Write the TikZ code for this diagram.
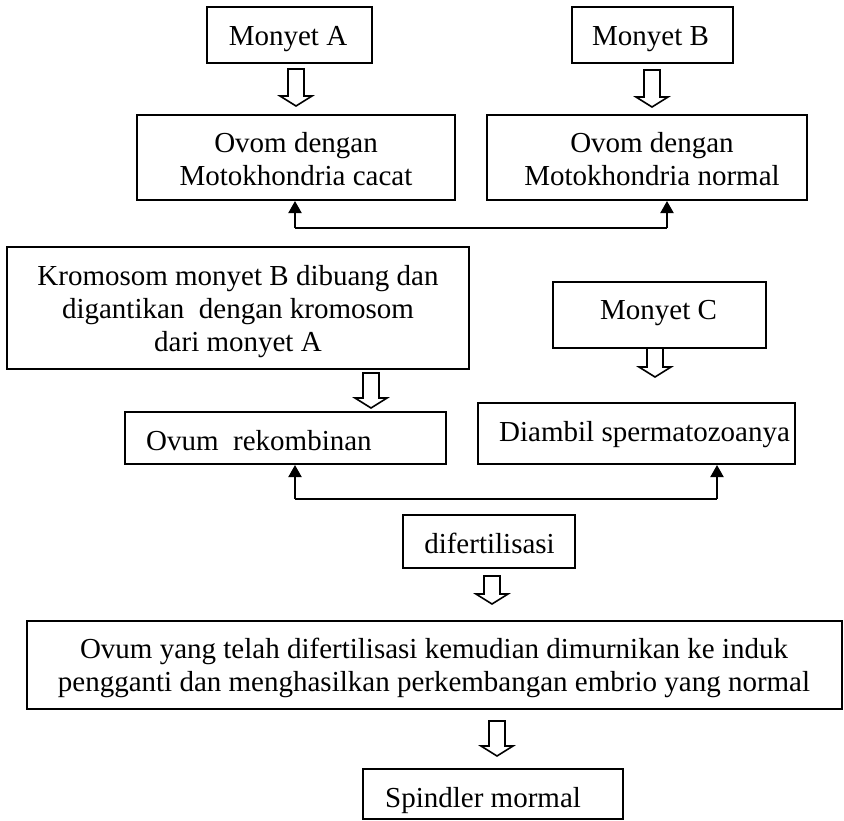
\documentclass[tikz,border=0pt]{standalone}
\usepackage{fontspec}
\setmainfont{Liberation Serif}
\usetikzlibrary{arrows.meta}
\begin{document}
\begin{tikzpicture}[x=1pt,y=-1pt,
  box/.style={draw, line width=2pt, inner sep=0pt},
  txt/.style={inner sep=0pt, align=center, font=\fontsize{29}{33}\selectfont},
  link/.style={line width=2pt},
  up/.style={link, -{Triangle[width=13pt,length=12pt]}},
  pics/hollow/.style={code={
    \draw[line width=1.6pt, fill=white, line join=miter]
      (-8,0) -- (8,0) -- (8,#1-10) -- (16,#1-10) -- (0,#1)
      -- (-16,#1-10) -- (-8,#1-10) -- cycle;}}
]
\useasboundingbox (0,0) rectangle (844,820);

% boxes
\node[box, minimum width=165pt, minimum height=56pt] (mA)   at (289.5,35)  {};
\node[box, minimum width=161pt, minimum height=56pt] (mB)   at (652.5,35)  {};
\node[box, minimum width=318pt, minimum height=85pt] (ovA)  at (296,157.5) {};
\node[box, minimum width=320pt, minimum height=85pt] (ovB)  at (647,157.5) {};
\node[box, minimum width=462pt, minimum height=122pt] (krom) at (238,308)  {};
\node[box, minimum width=213pt, minimum height=66pt] (mC)   at (659.5,315) {};
\node[box, minimum width=321pt, minimum height=52pt] (rek)  at (285.5,438) {};
\node[box, minimum width=317pt, minimum height=61pt] (diam) at (636.5,433.5) {};
\node[box, minimum width=172pt, minimum height=53pt] (dif)  at (489,541.5) {};
\node[box, minimum width=815pt, minimum height=88pt] (big)  at (434.5,665) {};
\node[box, minimum width=260pt, minimum height=50pt] (spin) at (493,794)   {};

% texts (multi-line nodes are placed by the baseline of their last line)
\node[txt, anchor=base] (mAt)   at (288,45)    {Monyet A};
\node[txt, anchor=base] (mBt)   at (650.5,45)  {Monyet B};
\node[txt, anchor=base] (ovAt)  at (296,185)   {Ovom dengan\\Motokhondria cacat};
\node[txt, anchor=base] (ovBt)  at (652,185)   {Ovom dengan\\Motokhondria normal};
\node[txt, anchor=base] (kromt) at (238,351)   {Kromosom monyet B dibuang dan\\digantikan~ dengan kromosom\\dari monyet A};
\node[txt, anchor=base] (mCt)   at (658.5,319) {Monyet C};
\node[txt, anchor=base west] (rekt)  at (146,450) {Ovum~ rekombinan};
\node[txt, anchor=base west] (diamt) at (499,441) {Diambil spermatozoanya};
\node[txt, anchor=base] (dift)  at (489.5,553) {difertilisasi};
\node[txt, anchor=base] (bigt)  at (434,691)   {Ovum yang telah difertilisasi kemudian dimurnikan ke induk\\pengganti dan menghasilkan perkembangan embrio yang normal};
\node[txt, anchor=base west] (spint) at (385,807) {Spindler mormal};

% hollow block arrows
\pic at (296,69)  {hollow=37};
\pic at (652,70)  {hollow=37};
\pic at (371,373) {hollow=35};
\pic at (655,348) {hollow=29};
\pic at (492,576) {hollow=28};
\pic at (497,721) {hollow=35};

% joining connectors
\coordinate (j1a) at (295,228);
\coordinate (j1b) at (667,228);
\draw[link] (j1a) -- (j1b);
\draw[up] (j1a) -- (j1a |- ovA.south);
\draw[up] (j1b) -- (j1b |- ovB.south);

\coordinate (j2a) at (295,499);
\coordinate (j2b) at (717,499);
\draw[link] (j2a) -- (j2b);
\draw[up] (j2a) -- (j2a |- rek.south);
\draw[up] (j2b) -- (j2b |- diam.south);
\end{tikzpicture}
\end{document}
